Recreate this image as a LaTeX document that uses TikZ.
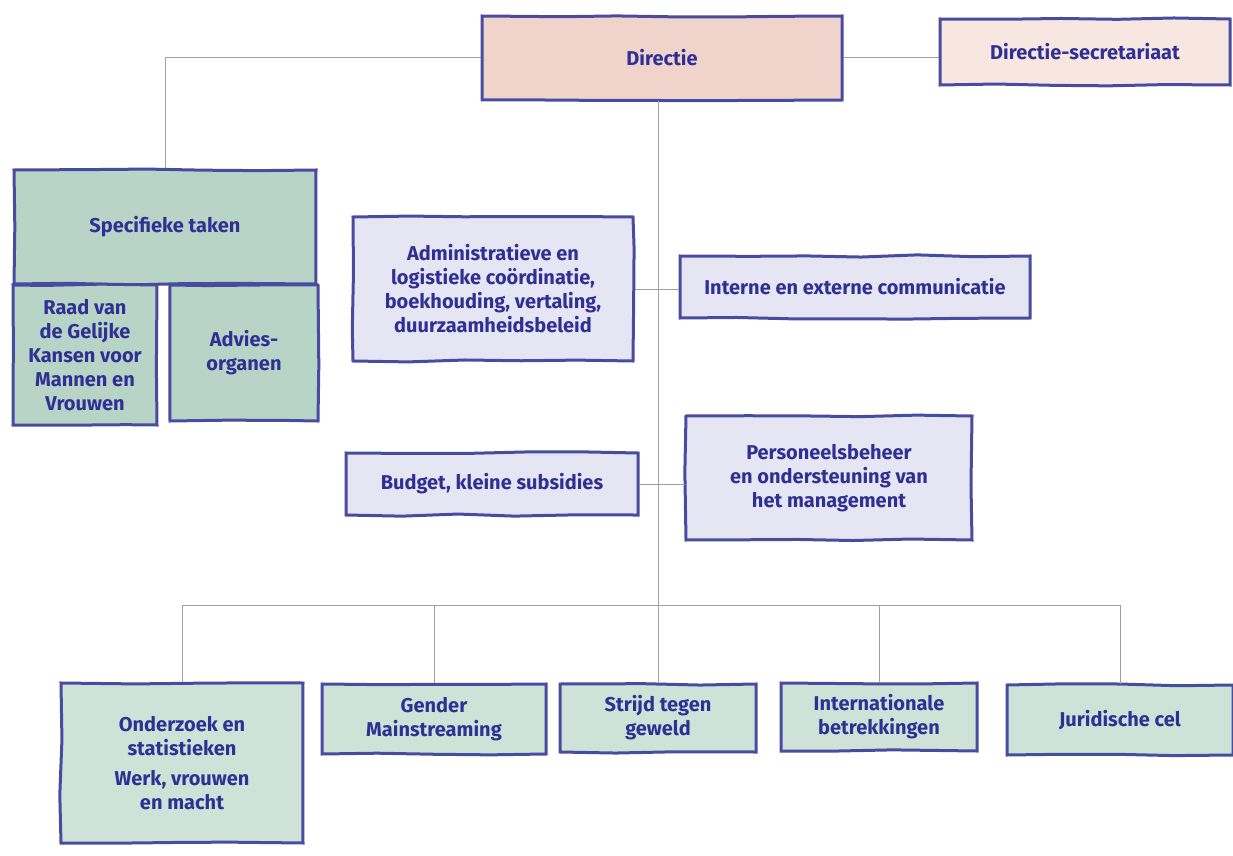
\documentclass[tikz,border=0pt]{standalone}
\usepackage{fontspec}
\setmainfont{Fira Sans}
\usetikzlibrary{decorations.pathmorphing}
\usepackage{xcolor}
\definecolor{inkblue}{RGB}{48,48,148}
\definecolor{penblue}{RGB}{72,76,160}
\definecolor{linegray}{RGB}{160,160,160}
\definecolor{softpink}{RGB}{240,212,204}
\definecolor{palepink}{RGB}{248,231,225}
\definecolor{softlilac}{RGB}{229,229,243}
\definecolor{deepgreen}{RGB}{184,212,198}
\definecolor{softgreen}{RGB}{206,226,216}
\tikzset{
unit/.style={draw=penblue,line width=1.5pt,inner sep=0pt,align=center,text=inkblue,font=\bfseries\fontsize{10}{12}\selectfont,decorate,decoration={random steps,segment length=28pt,amplitude=0.6pt}},
link/.style={draw=linegray,line width=0.5pt}
}
\pgfmathsetseed{11}

\begin{document}
\begin{tikzpicture}[x=0.5pt,y=-0.5pt]
\useasboundingbox (0,0) rectangle (1233,856);
% top level
\node[unit,fill=softpink,minimum width=180pt,minimum height=42pt] (dir) at (662,58) {Directie};
\node[unit,fill=palepink,minimum width=145pt,minimum height=33pt] (sec) at (1085,52) {Directie-secretariaat};
% specific tasks
\node[unit,fill=deepgreen,minimum width=151pt,minimum height=57pt] (spec) at (165,227) {Specifieke taken};
\node[unit,fill=deepgreen,minimum width=72pt,minimum height=70pt] (raad) at (85,355) {Raad van\\de Gelijke\\Kansen voor\\Mannen en\\Vrouwen};
\node[unit,fill=deepgreen,minimum width=74pt,minimum height=68pt] (advies) at (244,353) {Advies-\\organen};
% staff services
\node[unit,fill=softlilac,minimum width=140pt,minimum height=72pt] (adm) at (493,289) {Administratieve en\\logistieke coördinatie,\\boekhouding, vertaling,\\duurzaamheidsbeleid};
\node[unit,fill=softlilac,minimum width=175pt,minimum height=31pt] (comm) at (855,287) {Interne en externe communicatie};
\node[unit,fill=softlilac,minimum width=146pt,minimum height=31pt] (budget) at (492,484) {Budget, kleine subsidies};
\node[unit,fill=softlilac,minimum width=143pt,minimum height=62pt] (pers) at (829,478) {Personeelsbeheer\\en ondersteuning van\\het management};
% departments
\node[unit,fill=softgreen,minimum width=121pt,minimum height=80pt] (onderz) at (182,763) {Onderzoek en\\statistieken\\[3pt]Werk, vrouwen\\en macht};
\node[unit,fill=softgreen,minimum width=112pt,minimum height=35pt] (gender) at (434,719) {Gender\\Mainstreaming};
\node[unit,fill=softgreen,minimum width=98pt,minimum height=34pt] (strijd) at (658,718) {Strijd tegen\\geweld};
\node[unit,fill=softgreen,minimum width=98pt,minimum height=34pt] (intl) at (879,717) {Internationale\\betrekkingen};
\node[unit,fill=softgreen,minimum width=113pt,minimum height=35pt] (jur) at (1120,720) {Juridische cel};
\coordinate (bus) at (658,605);

% connectors
\draw[link] (dir.west) -| (spec.north);
\draw[link] (dir.east) -- (sec.west |- dir.east);
\draw[link] (bus |- dir.south) -- (bus);
\draw[link] (adm.east) -- (comm.west |- adm.east);
\draw[link] (budget.east) -- (pers.west |- budget.east);
\draw[link] (onderz.north |- bus) -- (jur.north |- bus);
\foreach \d in {onderz,gender,strijd,intl,jur}
  \draw[link] (\d.north |- bus) -- (\d.north);
\end{tikzpicture}
\end{document}
